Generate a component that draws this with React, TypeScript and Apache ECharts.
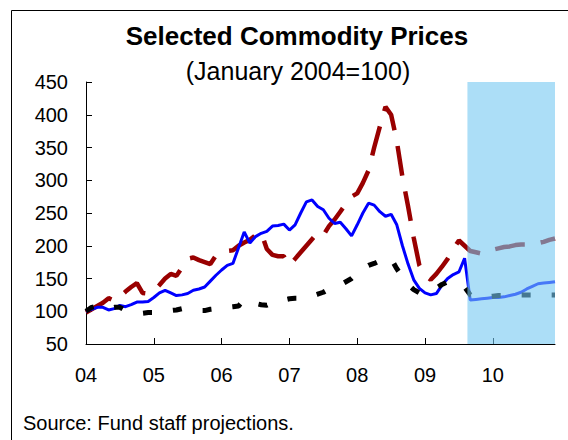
import React, { useEffect, useRef } from 'react';
import * as echarts from 'echarts';

// x positions are month indices from January 2004 (0) to December 2010 (83)
const xTickLabels = ['04', '05', '06', '07', '08', '09', '10'];
const monthsPerYear = 12;
const lastMonth = 83;
const projectionStart = 67.5;
const projectionEnd = 83.5;

const oilPrices = [
  98, 103, 108, 113, 120, 116, 122, 130, 137, 143, 128, 127,
  131, 140, 150, 157, 154, 167, 180, 182, 178, 175, 172, 185,
  190, 192, 193, 200, 205, 209, 216, 220, 195, 186, 184, 184,
  170, 180, 190, 200, 210, 220, 216, 230, 240, 252, 264, 275,
  280, 296, 315, 350, 382, 412, 400, 360, 305, 260, 212, 170,
  155, 148, 157, 168, 180, 195, 208, 200, 192, 190, 188, 191,
  194, 196, 198, 199, 201, 202, 202, 203, 204, 206, 209, 211,
];

const metalPrices = [
  100, 103, 106, 106, 102, 104, 109, 107, 110, 114, 114, 115,
  121, 128, 132, 128, 124, 125, 127, 132, 134, 137, 146, 155,
  163, 170, 173, 197, 221, 204, 214, 219, 222, 230, 231, 233,
  224, 232, 250, 267, 270, 260, 255, 242, 234, 236, 226, 215,
  232, 250, 265, 262, 252, 245, 248, 232, 200, 172, 148, 135,
  128, 125, 127, 140, 150, 156, 160, 181, 117, 118, 119, 120,
  121, 121, 122, 124, 126, 129, 134, 138, 142, 143, 144, 145,
];

const foodPrices = [
  100, 106, 108, 106, 104, 106, 106, 101, 99, 98, 97, 98,
  98, 99, 100, 101, 102, 104, 103, 102, 101, 101, 103, 104,
  105, 106, 107, 108, 118, 115, 112, 110, 109, 113, 115, 117,
  119, 120, 120, 120, 123, 126, 129, 134, 137, 140, 145, 150,
  158, 165, 170, 173, 177, 182, 180, 165, 152, 141, 133, 128,
  128, 130, 135, 141, 145, 143, 141, 137, 125, 122, 122, 122,
  123, 124, 124, 125, 125, 125, 125, 125, 125, 125, 125, 125,
];

const FONT = '"Liberation Sans", Arial, sans-serif';

const toPairs = (vals: number[]) => vals.map((v, i) => [i, v]);

export default function App() {
  const ref = useRef<HTMLDivElement>(null);

  useEffect(() => {
    if (!ref.current) return;
    const chart = echarts.init(ref.current, null, { renderer: 'svg' });
    const tickValues = xTickLabels.map((_, i) => i * monthsPerYear);
    const option: any = {
      animation: false,
      grid: { left: 86, right: 13, top: 82, bottom: 96 },
      xAxis: {
        type: 'value',
        min: 0,
        max: lastMonth,
        interval: monthsPerYear,
        axisLine: { show: true, lineStyle: { color: '#000', width: 1 } },
        axisTick: {
          show: true,
          inside: true,
          length: 6,
          customValues: tickValues,
          lineStyle: { color: '#000', width: 1 },
        },
        axisLabel: {
          customValues: tickValues,
          formatter: (v: number) => xTickLabels[Math.round(v / monthsPerYear)] ?? '',
          fontSize: 20,
          color: '#000',
          fontFamily: FONT,
          margin: 21,
        },
        splitLine: { show: false },
      },
      yAxis: {
        type: 'value',
        min: 50,
        max: 450,
        interval: 50,
        axisLine: { show: true, lineStyle: { color: '#000', width: 1 } },
        axisTick: { show: true, inside: true, length: 6, lineStyle: { color: '#000', width: 1 } },
        axisLabel: { fontSize: 20, color: '#000', fontFamily: FONT, margin: 18 },
        splitLine: { show: false },
      },
      series: [
        {
          name: 'Oil',
          type: 'line',
          data: toPairs(oilPrices),
          symbol: 'none',
          showSymbol: false,
          z: 2,
          lineStyle: { color: '#990000', width: 4.5, type: [30, 16], cap: 'butt' },
        },
        {
          name: 'Metals',
          type: 'line',
          data: toPairs(metalPrices),
          symbol: 'none',
          showSymbol: false,
          z: 3,
          lineStyle: { color: '#0000FF', width: 3, type: 'solid' },
        },
        {
          name: 'Food',
          type: 'line',
          data: toPairs(foodPrices),
          symbol: 'none',
          showSymbol: false,
          z: 4,
          lineStyle: { color: '#000000', width: 5, type: [9, 21], cap: 'butt' },
        },
        {
          name: 'Projection',
          type: 'line',
          data: [],
          z: 10,
          silent: true,
          clip: false,
          markArea: {
            silent: true,
            z: 10,
            itemStyle: { color: 'rgba(117,200,242,0.6)' },
            data: [[{ coord: [projectionStart, 50] }, { coord: [projectionEnd, 454] }]],
          },
        },
      ],
      graphic: [
        {
          type: 'rect',
          silent: true,
          shape: { x: 11.5, y: 10.5, width: 700, height: 600 },
          style: { fill: 'none', stroke: '#000', lineWidth: 1 },
        },
        {
          type: 'text',
          x: 297,
          y: 36,
          style: {
            text: 'Selected Commodity Prices',
            fontSize: 26,
            fontWeight: 'bold',
            fontFamily: FONT,
            fill: '#000',
            align: 'center',
            verticalAlign: 'middle',
          },
        },
        {
          type: 'text',
          x: 298,
          y: 71,
          style: {
            text: '(January 2004=100)',
            fontSize: 25,
            fontFamily: FONT,
            fill: '#000',
            align: 'center',
            verticalAlign: 'middle',
          },
        },
        {
          type: 'text',
          x: 23,
          y: 423,
          style: {
            text: 'Source: Fund staff projections.',
            fontSize: 20,
            fontFamily: FONT,
            fill: '#000',
            align: 'left',
            verticalAlign: 'middle',
          },
        },
      ],
    };
    chart.setOption(option);
    return () => chart.dispose();
  }, []);

  return (
    <div
      ref={ref}
      style={{ position: 'fixed', left: 0, top: 0, width: 568, height: 440, background: '#fff' }}
    />
  );
}
